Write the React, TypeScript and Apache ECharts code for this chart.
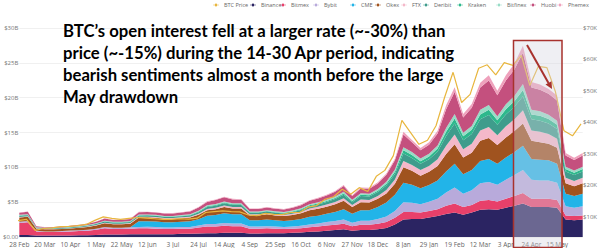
import React, { useEffect, useRef } from "react";
import * as echarts from "echarts";

// Weekly categories (Friday dates), 28 Feb 2020 .. 5 Jun 2021
const dates = [
  "28 Feb 2020", "6 Mar 2020", "13 Mar 2020", "20 Mar 2020", "27 Mar 2020", "3 Apr 2020", "10 Apr 2020", "17 Apr 2020",
  "24 Apr 2020", "1 May 2020", "8 May 2020", "15 May 2020", "22 May 2020", "29 May 2020", "5 Jun 2020", "12 Jun 2020",
  "19 Jun 2020", "26 Jun 2020", "3 Jul 2020", "10 Jul 2020", "17 Jul 2020", "24 Jul 2020", "31 Jul 2020", "7 Aug 2020",
  "14 Aug 2020", "21 Aug 2020", "28 Aug 2020", "4 Sep 2020", "11 Sep 2020", "18 Sep 2020", "25 Sep 2020", "2 Oct 2020",
  "9 Oct 2020", "16 Oct 2020", "23 Oct 2020", "30 Oct 2020", "6 Nov 2020", "13 Nov 2020", "20 Nov 2020", "27 Nov 2020",
  "4 Dec 2020", "11 Dec 2020", "18 Dec 2020", "25 Dec 2020", "1 Jan 2021", "8 Jan 2021", "15 Jan 2021", "22 Jan 2021",
  "29 Jan 2021", "5 Feb 2021", "12 Feb 2021", "19 Feb 2021", "26 Feb 2021", "5 Mar 2021", "12 Mar 2021", "19 Mar 2021",
  "26 Mar 2021", "3 Apr 2021", "10 Apr 2021", "17 Apr 2021", "24 Apr 2021", "1 May 2021", "8 May 2021", "15 May 2021",
  "22 May 2021", "29 May 2021", "5 Jun 2021",
];

// Open interest per exchange, $B
const binance = [
  0.3, 0.3, 0.2, 0.2, 0.2, 0.2, 0.2, 0.25, 0.25, 0.3, 0.35, 0.35, 0.35,
  0.4, 0.4, 0.4, 0.4, 0.4, 0.4, 0.45, 0.45, 0.5, 0.55, 0.55, 0.6, 0.6, 0.6,
  0.5, 0.5, 0.55, 0.55, 0.55, 0.6, 0.65, 0.75, 0.8, 0.9, 1.0, 1.1,
  0.9, 1.0, 1.0, 1.1, 1.3, 1.8,
  2.5, 2.6, 2.6, 2.8, 3.0, 3.3, 3.5, 3.2, 3.5, 3.9, 4.0, 3.9,
  4.2, 4.5, 4.8, 4.3, 4.3, 4.3, 4.2,
  2.5, 2.4, 2.5,
];
const bitmex = [
  1.7, 1.8, 0.6, 0.5, 0.5, 0.55, 0.6, 0.6, 0.65, 0.75, 0.9, 0.8, 0.8,
  0.8, 0.85, 0.85, 0.8, 0.75, 0.75, 0.75, 0.75, 0.85, 0.95, 0.95, 1.0, 0.95, 0.95,
  0.7, 0.7, 0.7, 0.65, 0.6, 0.6, 0.6, 0.65, 0.7, 0.75, 0.75, 0.8,
  0.65, 0.75, 0.75, 0.8, 0.85, 0.95,
  1.1, 1.0, 0.9, 0.95, 1.0, 1.2, 1.3, 1.1, 1.1, 1.3, 1.3, 1.2,
  1.3, 1.4, 1.5, 1.2, 1.2, 1.2, 1.1,
  0.6, 0.6, 0.6,
];
const bybit = [
  0.2, 0.2, 0.1, 0.1, 0.1, 0.1, 0.12, 0.12, 0.14, 0.15, 0.18, 0.18, 0.18,
  0.2, 0.2, 0.22, 0.22, 0.22, 0.22, 0.25, 0.25, 0.3, 0.35, 0.35, 0.4, 0.4, 0.4,
  0.3, 0.3, 0.3, 0.3, 0.3, 0.3, 0.35, 0.4, 0.45, 0.5, 0.55, 0.6,
  0.5, 0.6, 0.6, 0.7, 0.8, 1.0,
  1.4, 1.3, 1.2, 1.3, 1.5, 1.9, 2.3, 1.9, 2.1, 2.5, 2.6, 2.4,
  2.7, 3.0, 3.3, 2.7, 2.6, 2.6, 2.5,
  1.3, 1.2, 1.3,
];
const cme = [
  0, 0, 0, 0, 0, 0, 0, 0, 0, 0, 0, 0, 0,
  0, 0.8, 0.8, 0.8, 0.75, 0.75, 0.75, 0.8, 0.9, 1.2, 1.3, 1.4, 1.3, 1.3,
  0.9, 0.9, 0.95, 0.9, 0.85, 0.9, 1.0, 1.1, 1.1, 1.2, 1.3, 1.5,
  1.3, 1.5, 1.5, 1.7, 2.0, 2.3,
  2.8, 2.6, 2.3, 2.4, 2.6, 3.0, 3.4, 2.8, 2.9, 3.2, 3.3, 3.0,
  3.2, 3.3, 3.5, 3.0, 3.0, 2.9, 2.7,
  1.8, 1.7, 1.8,
];
const okex = [
  0.6, 0.6, 0.3, 0.3, 0.3, 0.3, 0.3, 0.35, 0.4, 0.45, 0.55, 0.5, 0.5,
  0.5, 0.55, 0.55, 0.55, 0.5, 0.5, 0.5, 0.55, 0.65, 0.8, 0.85, 0.9, 0.85, 0.85,
  0.7, 0.7, 0.75, 0.7, 0.7, 0.75, 0.8, 0.95, 1.0, 1.0, 1.1, 1.2,
  0.95, 1.15, 1.1, 1.2, 1.3, 1.6,
  2.2, 2.0, 1.8, 1.9, 2.1, 2.5, 2.8, 2.4, 2.5, 2.9, 3.0, 2.7,
  2.9, 3.0, 3.2, 2.6, 2.5, 2.4, 2.3,
  1.5, 1.4, 1.5,
];
const ftx = [
  0.08, 0.08, 0.05, 0.05, 0.05, 0.05, 0.05, 0.06, 0.06, 0.07, 0.08, 0.08, 0.08,
  0.1, 0.1, 0.1, 0.1, 0.1, 0.1, 0.12, 0.12, 0.15, 0.18, 0.2, 0.22, 0.2, 0.2,
  0.15, 0.15, 0.16, 0.16, 0.16, 0.17, 0.2, 0.25, 0.28, 0.3, 0.33, 0.38,
  0.3, 0.37, 0.37, 0.4, 0.5, 0.6,
  0.9, 0.85, 0.8, 0.85, 0.95, 1.2, 1.4, 1.2, 1.3, 1.5, 1.6, 1.4,
  1.6, 1.7, 1.9, 1.5, 1.5, 1.4, 1.3,
  0.8, 0.75, 0.8,
];
const deribit = [
  0.15, 0.15, 0.08, 0.08, 0.08, 0.09, 0.1, 0.1, 0.11, 0.13, 0.16, 0.15, 0.15,
  0.16, 0.17, 0.17, 0.17, 0.16, 0.16, 0.17, 0.18, 0.22, 0.27, 0.3, 0.32, 0.3, 0.3,
  0.22, 0.22, 0.24, 0.23, 0.23, 0.25, 0.28, 0.32, 0.35, 0.38, 0.42, 0.5,
  0.4, 0.5, 0.5, 0.55, 0.65, 0.8,
  1.1, 1.0, 0.9, 0.95, 1.1, 1.4, 1.6, 1.3, 1.4, 1.6, 1.7, 1.5,
  1.7, 1.8, 2.0, 1.6, 1.6, 1.5, 1.4,
  0.9, 0.85, 0.9,
];
const kraken = [
  0.05, 0.05, 0.03, 0.03, 0.03, 0.03, 0.03, 0.03, 0.04, 0.04, 0.05, 0.05, 0.05,
  0.05, 0.06, 0.06, 0.06, 0.06, 0.06, 0.06, 0.07, 0.08, 0.1, 0.1, 0.11, 0.1, 0.1,
  0.08, 0.08, 0.08, 0.08, 0.08, 0.09, 0.1, 0.12, 0.13, 0.14, 0.15, 0.18,
  0.15, 0.18, 0.18, 0.2, 0.25, 0.3,
  0.45, 0.42, 0.38, 0.4, 0.45, 0.6, 0.7, 0.55, 0.6, 0.7, 0.75, 0.65,
  0.75, 0.8, 0.9, 0.7, 0.7, 0.65, 0.6,
  0.35, 0.33, 0.35,
];
const bitfinex = [
  0.1, 0.1, 0.05, 0.05, 0.05, 0.05, 0.06, 0.06, 0.06, 0.07, 0.08, 0.08, 0.08,
  0.08, 0.09, 0.09, 0.09, 0.09, 0.09, 0.09, 0.1, 0.12, 0.14, 0.15, 0.15, 0.15, 0.15,
  0.12, 0.12, 0.12, 0.12, 0.12, 0.13, 0.14, 0.16, 0.17, 0.18, 0.2, 0.22,
  0.18, 0.22, 0.22, 0.24, 0.28, 0.35,
  0.45, 0.42, 0.38, 0.4, 0.45, 0.55, 0.65, 0.5, 0.55, 0.65, 0.7, 0.6,
  0.7, 0.75, 0.85, 0.65, 0.65, 0.6, 0.6,
  0.35, 0.33, 0.35,
];
const huobi = [
  0.3, 0.35, 0.12, 0.1, 0.12, 0.13, 0.14, 0.16, 0.18, 0.22, 0.3, 0.25, 0.28,
  0.3, 0.35, 0.35, 0.33, 0.33, 0.35, 0.38, 0.4, 0.45, 0.5, 0.55, 0.6, 0.55, 0.5,
  0.35, 0.35, 0.4, 0.35, 0.35, 0.4, 0.45, 0.5, 0.55, 0.6, 0.7, 0.85,
  0.55, 0.7, 0.7, 0.8, 1.0, 1.3,
  1.8, 1.4, 1.2, 1.3, 1.7, 2.7, 3.2, 2.2, 2.6, 3.2, 3.5, 3.0,
  3.4, 3.8, 4.5, 3.2, 3.1, 3.0, 2.9,
  1.6, 1.5, 1.6,
];
const phemex = [
  0.04, 0.04, 0.02, 0.02, 0.02, 0.02, 0.02, 0.03, 0.03, 0.03, 0.04, 0.04, 0.04,
  0.04, 0.05, 0.05, 0.05, 0.05, 0.05, 0.05, 0.06, 0.07, 0.08, 0.08, 0.09, 0.08, 0.08,
  0.06, 0.06, 0.07, 0.07, 0.07, 0.07, 0.08, 0.09, 0.1, 0.11, 0.12, 0.14,
  0.12, 0.14, 0.14, 0.16, 0.2, 0.25,
  0.4, 0.35, 0.3, 0.35, 0.4, 0.55, 0.65, 0.5, 0.55, 0.7, 0.75, 0.65,
  0.75, 0.85, 1.0, 0.8, 0.75, 0.7, 0.7,
  0.35, 0.33, 0.35,
];

// BTC price, $K
const btcPrice = [
  8.7, 9.1, 5.6, 6.2, 6.4, 6.8, 6.9, 7.1, 7.5, 8.8, 9.9, 9.4, 9.1,
  9.4, 9.7, 9.5, 9.3, 9.1, 9.1, 9.3, 9.2, 9.5, 11.3, 11.6, 11.8, 11.6, 11.5,
  10.5, 10.3, 11.0, 10.7, 10.6, 11.3, 11.3, 13.0, 13.5, 15.5, 16.3, 18.7,
  17.1, 19.2, 18.0, 22.8, 24.7, 29.4,
  40.6, 36.8, 33.0, 34.3, 38.9, 47.9, 55.9, 46.3, 48.9, 57.2, 58.3, 55.1,
  59.0, 58.1, 61.3, 51.7, 57.8, 57.4, 49.7,
  37.3, 35.7, 39.5,
];

const exchangeNames = ["Binance", "Bitmex", "Bybit", "CME", "Okex", "FTX", "Deribit", "Kraken", "Bitfinex", "Huobi", "Phemex"];
const exchangeData = [binance, bitmex, bybit, cme, okex, ftx, deribit, kraken, bitfinex, huobi, phemex];
const exchangeColors = ["#2B2462", "#E8406A", "#B8AADB", "#22B4E8", "#A0531F", "#F4B8C9", "#3F9C8C", "#2DB88C", "#97DCC6", "#C4507E", "#EFA1BC"];
const priceColor = "#E8B63E";

const legendNames = ["BTC Price", ...exchangeNames];
const legendLeft = [213, 250, 280, 313, 350, 375, 401, 423, 457, 496, 530, 557];

const titleLines = [
  "BTC’s open interest fell at a larger rate (~-30%) than",
  "price (~-15%) during the 14-30 Apr period, indicating",
  "bearish sentiments almost a month before the large",
  "May drawdown",
];

const FONT = "'Open Sans', 'Noto Sans', sans-serif";
const legendIcon = "path://M0,4h3a2,2,0,1,1,4,0h3v1.2h-3a2,2,0,1,1,-4,0h-3z";

export default function App() {
  const ref = useRef<HTMLDivElement>(null);
  useEffect(() => {
    document.body.style.margin = "0";
    if (!ref.current) return;
    const chart = echarts.init(ref.current, undefined, { renderer: "svg" });
    const dateLabel = (v: string) => v.split(" ").slice(0, 2).join(" ");
    const areaSeries = exchangeNames.map((name, i) => ({
      name,
      type: "line",
      stack: "oi",
      xAxisIndex: 0,
      yAxisIndex: 0,
      data: exchangeData[i],
      symbol: "none",
      color: exchangeColors[i],
      lineStyle: { width: 0 },
      areaStyle: { color: exchangeColors[i], opacity: 1 },
      z: 2,
    }));
    const option: any = {
      animation: false,
      backgroundColor: "#ffffff",
      textStyle: { fontFamily: FONT },
      legend: legendNames.map((name, i) => ({
        data: [name],
        left: legendLeft[i],
        top: 2,
        padding: 0,
        itemWidth: 6,
        itemHeight: 5,
        itemGap: 0,
        icon: legendIcon,
        textStyle: { fontSize: 5.5, color: "#666", fontFamily: FONT },
      })),
      grid: [
        { left: 18, right: 17.3, top: 28, bottom: 8 },
        { left: 18, right: 17.3, top: 28, bottom: -7.5 },
      ],
      xAxis: [
        {
          type: "category",
          gridIndex: 0,
          data: dates,
          boundaryGap: false,
          axisLine: { show: false },
          axisTick: { show: false },
          splitLine: { show: false },
          axisLabel: {
            interval: (idx: number) => idx % 3 === 0 && idx <= 63,
            fontSize: 6.5,
            color: "#666",
            margin: 4,
            formatter: dateLabel,
          },
        },
        { type: "category", gridIndex: 1, data: dates, boundaryGap: false, show: false },
      ],
      yAxis: [
        {
          type: "value",
          gridIndex: 0,
          min: 0,
          max: 30,
          interval: 5,
          axisLine: { show: false },
          axisTick: { show: false },
          splitLine: { lineStyle: { color: "#ECECEC", width: 0.8 } },
          axisLabel: {
            fontSize: 6,
            color: "#777",
            margin: 1,
            formatter: (v: number) => (v === 0 ? "$0.00" : "$" + v + "B"),
          },
        },
        {
          type: "value",
          gridIndex: 1,
          position: "right",
          min: 0,
          max: 70,
          interval: 10,
          axisLine: { show: false },
          axisTick: { show: false },
          splitLine: { show: false },
          axisLabel: {
            fontSize: 6,
            color: "#777",
            margin: 2,
            formatter: (v: number) => (v === 0 ? "" : "$" + v + "K"),
          },
        },
      ],
      series: [
        {
          name: "BTC Price",
          type: "line",
          xAxisIndex: 1,
          yAxisIndex: 1,
          data: btcPrice,
          symbol: "none",
          color: priceColor,
          lineStyle: { width: 1.2, color: priceColor },
          z: 5,
        },
        ...areaSeries,
      ],
      graphic: [
        ...titleLines.map((t, i) => ({
          type: "text",
          x: 63,
          y: 31 + i * 21.9,
          z: 60,
          style: {
            text: t,
            font: "bold 16.7px Lato, 'Open Sans', sans-serif",
            fill: "#000",
            textVerticalAlign: "middle",
            verticalAlign: "middle",
          },
        })),
        {
          type: "rect",
          z: 50,
          shape: { x: 513.5, y: 40.5, width: 48.5, height: 207 },
          style: { fill: "rgba(214,214,224,0.38)", stroke: "#A8322D", lineWidth: 1.5 },
        },
        {
          type: "line",
          z: 51,
          shape: { x1: 527, y1: 45, x2: 548.5, y2: 83 },
          style: { stroke: "#A8322D", lineWidth: 2 },
        },
        {
          type: "polygon",
          z: 51,
          shape: { points: [[552, 89], [551.5, 81.2], [545.5, 84.6]] },
          style: { fill: "#A8322D" },
        },
      ],
    };
    chart.setOption(option);
    return () => chart.dispose();
  }, []);
  return <div ref={ref} style={{ position: "absolute", left: 0, top: 0, width: 600, height: 248 }} />;
}
